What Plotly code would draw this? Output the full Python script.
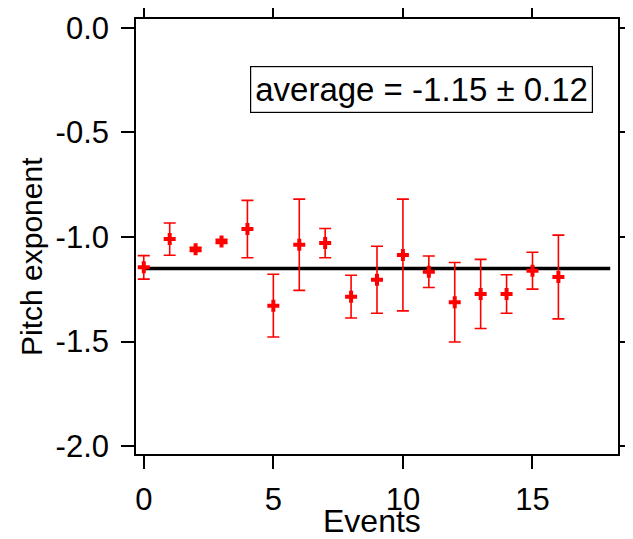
import plotly.graph_objects as go

events = list(range(17))
pitch = [-1.145, -1.010, -1.059, -1.021, -0.962, -1.328, -1.037, -1.029, -1.285,
         -1.204, -1.086, -1.166, -1.312, -1.272, -1.272, -1.161, -1.191]
errors = [0.056, 0.077, 0.010, 0.010, 0.137, 0.150, 0.218, 0.070, 0.102,
          0.160, 0.267, 0.075, 0.190, 0.165, 0.092, 0.088, 0.200]
avg_x = [0, 18]
avg_value = -1.15
avg_label = "average = -1.15 ± 0.12"
x_ticks = [0, 5, 10, 15]
y_ticks = [0.0, -0.5, -1.0, -1.5, -2.0]
y_tick_text = ["0.0", "-0.5", "-1.0", "-1.5", "-2.0"]

FONT = "Liberation Sans, Arial, sans-serif"

fig = go.Figure()
fig.add_trace(go.Scatter(
    x=avg_x, y=[avg_value] * len(avg_x), mode="lines",
    line=dict(color="black", width=3.5), showlegend=False, hoverinfo="skip"))
fig.add_trace(go.Scatter(
    x=events, y=pitch, mode="markers",
    marker=dict(symbol="cross", size=10, color="#ff0000", line=dict(width=0)),
    error_y=dict(type="data", array=errors, visible=True, color="#ff0000",
                 thickness=1.6, width=6),
    showlegend=False))

axis_common = dict(showline=True, linecolor="black", linewidth=1.6, mirror="allticks",
                   ticks="outside", ticklen=13, tickwidth=1.6, tickcolor="black",
                   showgrid=False, zeroline=False, automargin=False,
                   tickfont=dict(family=FONT, size=31, color="black"))

fig.update_xaxes(range=[-0.3, 18.3], tickvals=x_ticks, ticklabelstandoff=4, **axis_common)
fig.update_yaxes(range=[-2.037, 0.042], tickvals=y_ticks, ticktext=y_tick_text,
                 ticklabelstandoff=6, **axis_common)

fig.add_annotation(text=avg_label, xref="paper", yref="paper", x=0.593, y=0.839,
                   xanchor="center", yanchor="middle", showarrow=False,
                   font=dict(family=FONT, size=33, color="black"),
                   bordercolor="black", borderwidth=1.2, borderpad=4, bgcolor="white")
fig.add_annotation(text="Events", xref="paper", yref="paper", x=0.49, y=-0.153,
                   xanchor="center", yanchor="middle", showarrow=False,
                   font=dict(family=FONT, size=32, color="black"))
fig.add_annotation(text="Pitch exponent", xref="paper", yref="paper", x=-0.218, y=0.455,
                   xanchor="center", yanchor="middle", showarrow=False, textangle=-90,
                   font=dict(family=FONT, size=30, color="black"))

# the page body adds an 8 px offset, so the figure is drawn 8 px smaller with shifted margins
fig.update_layout(width=625, height=531, margin=dict(l=128, r=15, t=11, b=85),
                  plot_bgcolor="white", paper_bgcolor="white", showlegend=False)

fig.write_html("out.html")
